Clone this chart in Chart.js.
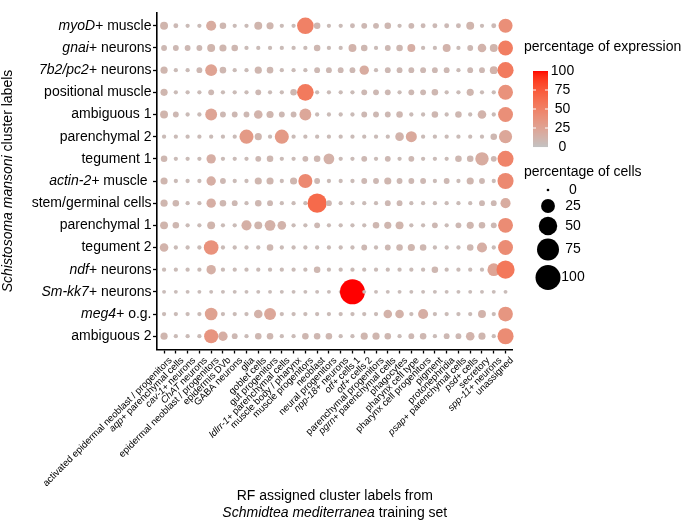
<!DOCTYPE html>
<html>
<head>
<meta charset="utf-8">
<script src="https://cdn.jsdelivr.net/npm/chart.js@4"></script>
<style>
  html, body { margin: 0; padding: 0; background: #fff; }
  canvas { display: block; }
</style>
</head>
<body>
<canvas id="dotplot" width="685" height="522"></canvas>
<script>
// *text* = italic part of a label
const clusterLabels = [
  "*myoD+* muscle", "*gnai+* neurons", "*7b2/pc2+* neurons", "positional muscle",
  "ambiguous 1", "parenchymal 2", "tegument 1", "*actin-2+* muscle ",
  "stem/germinal cells", "parenchymal 1", "tegument 2", "*ndf+* neurons",
  "*Sm-kk7+* neurons", "*meg4+* o.g.", "ambiguous 2",
];

const trainingLabels = [
  "activated epidermal neoblast / progenitors", "*aqp+* parenchymal cells",
  "*cav-1+* neurons", "*ChAT* neurons", "epidermal neoblast / progenitors",
  "epidermis DVb", "GABA neurons", "glia", "goblet cells", "gut progenitors",
  "*ldlrr-1+* parenchymal cells", "muscle body / pharynx", "muscle progenitors",
  "neoblast", "neural progenitors", "*npp-18+* neurons", "*otf+* cells 1",
  "*otf+* cells 2", "parenchymal progenitors", "*pgrn+* parenchymal cells",
  "phagocytes", "pharynx cell type", "pharynx cell progenitors", "pigment",
  "protonephridia", "*psap+* parenchymal cells", "*psd+* cells", "secretory",
  "*spp-11+* neurons", "unassigned",
];

// percentage of cells (dot size), one row per cluster
const pctCells = [
  [5.5,1,0.5,0.5,11,3,0.5,0.5,5.5,4,0.5,0.5,39,3,0.5,0.5,1,2,2,3,0.5,2,1,1,1,1,5.5,0.5,1,26],
  [2,2,2,2,5.5,4,3,0.5,0.5,0.5,0.5,0.5,0.5,3,0.5,0.5,5.5,3,0.5,2,3,5.5,0.5,0.5,5.5,0.5,2,7,5.5,30],
  [4,0.5,0.5,2,17,3,0.5,0.5,4,3,0.5,0.5,0.5,2,2,2,2,9,0.5,2,2,2,2,2,2,0.5,2,2,5.5,36],
  [4,0.5,0.5,0.5,2,0.5,0.5,0.5,2,0.5,0.5,3,39,0.5,0.5,0.5,0.5,2,2,2,0.5,2,2,3,0.5,0.5,4,0.5,0.5,30],
  [5.5,2,0.5,0.5,17,2,2,2,7,4,2,2,17,0.5,0.5,0.5,0.5,2,2,2,3,0.5,0.5,3,0.5,3,0.5,7,0.5,30],
  [0.5,0.5,0.5,0.5,0.5,0.5,0.5,26,4,0.5,26,0.5,0.5,0.5,0.5,0.5,0.5,0.5,0.5,0.5,7,14,0.5,0.5,0.5,0.5,0.5,0.5,3,22],
  [3,0.5,0.5,0.5,9,0.5,0.5,0.5,2,3,0.5,0.5,2,3,13,0.5,0.5,2,0.5,2,0.5,2,0.5,0.5,0.5,3,3,23,2,36],
  [4,0.5,0.5,0.5,9,2,0.5,0.5,4,4,0.5,4,26,2,0.5,0.5,0.5,2,2,4,2,2,2,0.5,2,0.5,4,2,0.5,36],
  [4,3,0.5,0.5,9,3,2,0.5,3,2,0.5,0.5,0.5,55,2,0.5,0.5,0.5,0.5,2,2,0.5,0.5,0.5,0.5,0.5,0.5,2,2,11],
  [5.5,3,0.5,0.5,5.5,0.5,0.5,11,5.5,13,7,0.5,0.5,2,0.5,0.5,0.5,0.5,3,4,5.5,0.5,0.5,2,0.5,2,4,3,2,30],
  [7,0.5,0.5,0.5,29,0.5,0.5,0.5,0.5,3,0.5,0.5,0.5,0.5,0.5,0.5,0.5,2,0.5,2,3,4,3,0.5,0.5,0.5,3,11,0.5,30],
  [0.5,0.5,0.5,0.5,9,0.5,0.5,0.5,0.5,0.5,0.5,0.5,0.5,3,0.5,0.5,0.5,0.5,0.5,0.5,0.5,0.5,0.5,3,0.5,0.5,0.5,0.5,20,48],
  [0.3,0.3,0.3,0.3,0.3,0.3,0.3,0.3,0.3,0.3,0.3,0.3,0.3,0.3,0.3,0.3,100,0.3,0.3,0.3,0.3,0.3,0.3,0.3,0.3,0.3,0.3,0.3,0.3,0.3],
  [0.5,0.5,0.5,0.5,20,0.5,0.5,0.5,7,17,0.5,0.5,0.5,0.5,0.5,0.5,0.5,0.5,0.5,7,7,0.5,11,0.5,0.5,0.5,0.5,5.5,0.5,29],
  [4,0.5,0.5,0.5,26,9,2,0.5,3,3,0.5,0.5,3,3,3,0.5,0.5,4,4,3,0.5,2,3,0.5,2,2,7,4,0.5,36],
];

// percentage of expression (dot colour)
const pctExpr = [
  [11,7,6,6,18,9,6,6,11,10,6,6,50,9,6,6,7,8,8,9,6,8,7,7,7,7,11,6,7,40],
  [8,8,8,8,11,10,9,6,6,6,6,6,6,9,6,6,12,9,6,8,9,16,6,6,12,6,8,12,11,52],
  [10,6,6,8,25,9,6,6,10,9,6,6,6,8,8,8,8,18,6,8,8,8,8,8,8,6,8,8,12,54],
  [10,6,6,6,8,6,6,6,8,6,6,9,55,6,6,6,6,8,8,8,6,8,8,9,6,6,10,6,6,38],
  [11,8,6,6,24,8,8,8,12,10,8,8,22,6,6,6,6,8,8,8,9,6,6,9,6,9,6,12,6,40],
  [6,6,6,6,6,6,6,32,10,6,32,6,6,6,6,6,6,6,6,6,12,20,6,6,6,6,6,6,9,22],
  [9,6,6,6,16,6,6,6,8,9,6,6,8,9,14,6,6,8,6,8,6,8,6,6,6,9,9,18,8,48],
  [10,6,6,6,16,8,6,6,10,10,6,10,44,8,6,6,6,8,8,10,8,8,8,6,8,6,10,8,6,44],
  [10,9,6,6,16,9,8,6,9,8,6,6,6,65,8,6,6,6,6,8,8,6,6,6,6,6,6,8,8,18],
  [11,9,6,6,11,6,6,15,11,14,12,6,6,8,6,6,6,6,9,10,11,6,6,8,6,8,10,9,8,42],
  [12,6,6,6,38,6,6,6,6,9,6,6,6,6,6,6,6,8,6,8,9,10,9,6,6,6,9,16,6,42],
  [6,6,6,6,15,6,6,6,6,6,6,6,6,9,6,6,6,6,6,6,6,6,6,9,6,6,6,6,24,56],
  [5,5,5,5,5,5,5,5,5,5,5,5,5,5,5,5,100,5,5,5,5,5,5,5,5,5,5,5,5,5],
  [6,6,6,6,26,6,6,6,13,22,6,6,6,6,6,6,6,6,6,13,13,6,16,6,6,6,6,12,6,35],
  [10,6,6,6,36,16,8,6,9,9,6,6,9,9,9,6,6,10,10,9,6,8,9,6,8,8,12,10,6,42],
];

const exprBreaks = [100, 75, 50, 25, 0];
const cellBreaks = [0, 25, 50, 75, 100];

const FONT = '"Liberation Sans", Arial, Helvetica, sans-serif';
const lowRGB = [194, 194, 194];
const highRGB = [255, 0, 0];

// colour ramp in CIE Lab, like ggplot's scale_colour_gradient
const WHITE = [0.95047, 1, 1.08883];
function lin(c) { c /= 255; return c <= 0.04045 ? c / 12.92 : Math.pow((c + 0.055) / 1.055, 2.4); }
function gam(c) {
  c = c <= 0.0031308 ? 12.92 * c : 1.055 * Math.pow(c, 1 / 2.4) - 0.055;
  return Math.round(Math.max(0, Math.min(1, c)) * 255);
}
function toLab(rgb) {
  const [r, g, b] = rgb.map(lin);
  const xyz = [
    (0.4124 * r + 0.3576 * g + 0.1805 * b) / WHITE[0],
    (0.2126 * r + 0.7152 * g + 0.0722 * b) / WHITE[1],
    (0.0193 * r + 0.1192 * g + 0.9505 * b) / WHITE[2],
  ];
  const f = xyz.map(v => v > 0.008856 ? Math.cbrt(v) : 7.787 * v + 16 / 116);
  return [116 * f[1] - 16, 500 * (f[0] - f[1]), 200 * (f[1] - f[2])];
}
function fromLab([L, a, b]) {
  const fy = (L + 16) / 116, fx = fy + a / 500, fz = fy - b / 200;
  const inv = v => v ** 3 > 0.008856 ? v ** 3 : (v - 16 / 116) / 7.787;
  const X = inv(fx) * WHITE[0], Y = inv(fy) * WHITE[1], Z = inv(fz) * WHITE[2];
  return [
    gam(3.2406 * X - 1.5372 * Y - 0.4986 * Z),
    gam(-0.9689 * X + 1.8758 * Y + 0.0415 * Z),
    gam(0.0557 * X - 0.2040 * Y + 1.0570 * Z),
  ];
}
const lowLab = toLab(lowRGB);
const highLab = toLab(highRGB);

function exprColour(v) {
  const t = Math.max(0, Math.min(1, v / 100));
  const [r, g, b] = fromLab(lowLab.map((a, i) => a + (highLab[i] - a) * t));
  return `rgb(${r},${g},${b})`;
}

function cellRadius(v) {
  return 1.35 + 11.15 * Math.sqrt(v / 100);
}

function setFont(ctx, size, italic) {
  ctx.font = `${italic ? "italic " : ""}${size}px ${FONT}`;
}

// draws "plain *italic* plain" text
function richText(ctx, text, x, y, size, align) {
  const parts = text.split("*");
  let width = 0;
  parts.forEach((p, i) => { setFont(ctx, size, i % 2); width += ctx.measureText(p).width; });
  let cx = align === "right" ? x - width : align === "center" ? x - width / 2 : x;
  ctx.textAlign = "left";
  parts.forEach((p, i) => {
    setFont(ctx, size, i % 2);
    ctx.fillText(p, cx, y);
    cx += ctx.measureText(p).width;
  });
}

const points = [];
trainingLabels.forEach((_, col) => {
  clusterLabels.forEach((_, row) => {
    points.push({ x: col, y: row, cells: pctCells[row][col], expr: pctExpr[row][col] });
  });
});

const labelsPlugin = {
  id: "labels",
  afterDraw(chart) {
    const ctx = chart.ctx;
    const area = chart.chartArea;
    const xs = chart.scales.x;
    const ys = chart.scales.y;
    ctx.save();
    ctx.fillStyle = "#000";

    ctx.textBaseline = "middle";
    clusterLabels.forEach((lab, i) => {
      richText(ctx, lab, area.left - 5.5, ys.getPixelForValue(i), 14, "right");
    });

    trainingLabels.forEach((lab, i) => {
      ctx.save();
      ctx.translate(xs.getPixelForValue(i) + 3, area.bottom + 6);
      ctx.rotate(-Math.PI / 4);
      ctx.textBaseline = "top";
      richText(ctx, lab, 0, 0, 9.6, "right");
      ctx.restore();
    });

    // axis titles
    const midX = (area.left + area.right) / 2;
    ctx.textBaseline = "middle";
    richText(ctx, "RF assigned cluster labels from", midX, 496, 14, "center");
    richText(ctx, "*Schmidtea mediterranea* training set", midX, 513, 14, "center");
    ctx.save();
    ctx.translate(8, (area.top + area.bottom) / 2);
    ctx.rotate(-Math.PI / 2);
    richText(ctx, "*Schistosoma mansoni* cluster labels", 0, 0, 14, "center");
    ctx.restore();

    // colour bar legend
    const barX = 533, barW = 15, barTop = 71, barH = 76;
    richText(ctx, "percentage of expression", 524, 47, 14, "left");
    for (let k = 0; k < barH; k++) {
      ctx.fillStyle = exprColour(100 - (k + 0.5) / barH * 100);
      ctx.fillRect(barX, barTop + k, barW, 1.05);
    }
    ctx.strokeStyle = "#fff";
    ctx.lineWidth = 1;
    exprBreaks.forEach(v => {
      const y = barTop + (100 - v) / 100 * barH;
      if (v > 0 && v < 100) {
        ctx.beginPath();
        ctx.moveTo(barX, y); ctx.lineTo(barX + 3, y);
        ctx.moveTo(barX + barW - 3, y); ctx.lineTo(barX + barW, y);
        ctx.stroke();
      }
      ctx.fillStyle = "#000";
      richText(ctx, String(v), 562.5, y, 14, "center");
    });

    // dot size legend
    ctx.fillStyle = "#000";
    richText(ctx, "percentage of cells", 524, 172, 14, "left");
    const keyY = [190, 206, 226, 249.5, 277.5];
    cellBreaks.forEach((v, i) => {
      ctx.beginPath();
      ctx.arc(548, keyY[i], cellRadius(v), 0, Math.PI * 2);
      ctx.fill();
      richText(ctx, String(v), 573, keyY[i], 14, "center");
    });
    ctx.restore();
  },
};

new Chart(document.getElementById("dotplot"), {
  type: "scatter",
  data: {
    datasets: [{
      data: points,
      clip: false,
      pointRadius: ctx => cellRadius(ctx.raw.cells),
      pointHoverRadius: ctx => cellRadius(ctx.raw.cells),
      backgroundColor: ctx => exprColour(ctx.raw.expr),
      borderWidth: 0,
    }],
  },
  options: {
    responsive: false,
    animation: false,
    events: [],
    layout: { padding: { top: 0.2, right: 172.4, left: 0, bottom: 0 } },
    plugins: { legend: { display: false }, tooltip: { enabled: false } },
    scales: {
      x: {
        type: "linear",
        min: -0.6,
        max: 29.6,
        afterBuildTicks: axis => { axis.ticks = trainingLabels.map((_, i) => ({ value: i })); },
        afterFit: axis => { axis.height = 172.5; },
        ticks: { display: false },
        grid: { drawOnChartArea: false, drawTicks: true, tickLength: 4, tickWidth: 1.3, tickColor: "#000" },
        border: { display: true, color: "#000", width: 1.6 },
      },
      y: {
        type: "linear",
        reverse: true,
        min: -0.6,
        max: 14.6,
        afterBuildTicks: axis => { axis.ticks = clusterLabels.map((_, i) => ({ value: i })); },
        afterFit: axis => { axis.width = 157; },
        ticks: { display: false },
        grid: { drawOnChartArea: false, drawTicks: true, tickLength: 4, tickWidth: 1.3, tickColor: "#000" },
        border: { display: true, color: "#000", width: 1.6 },
      },
    },
  },
  plugins: [labelsPlugin],
});
</script>
</body>
</html>
